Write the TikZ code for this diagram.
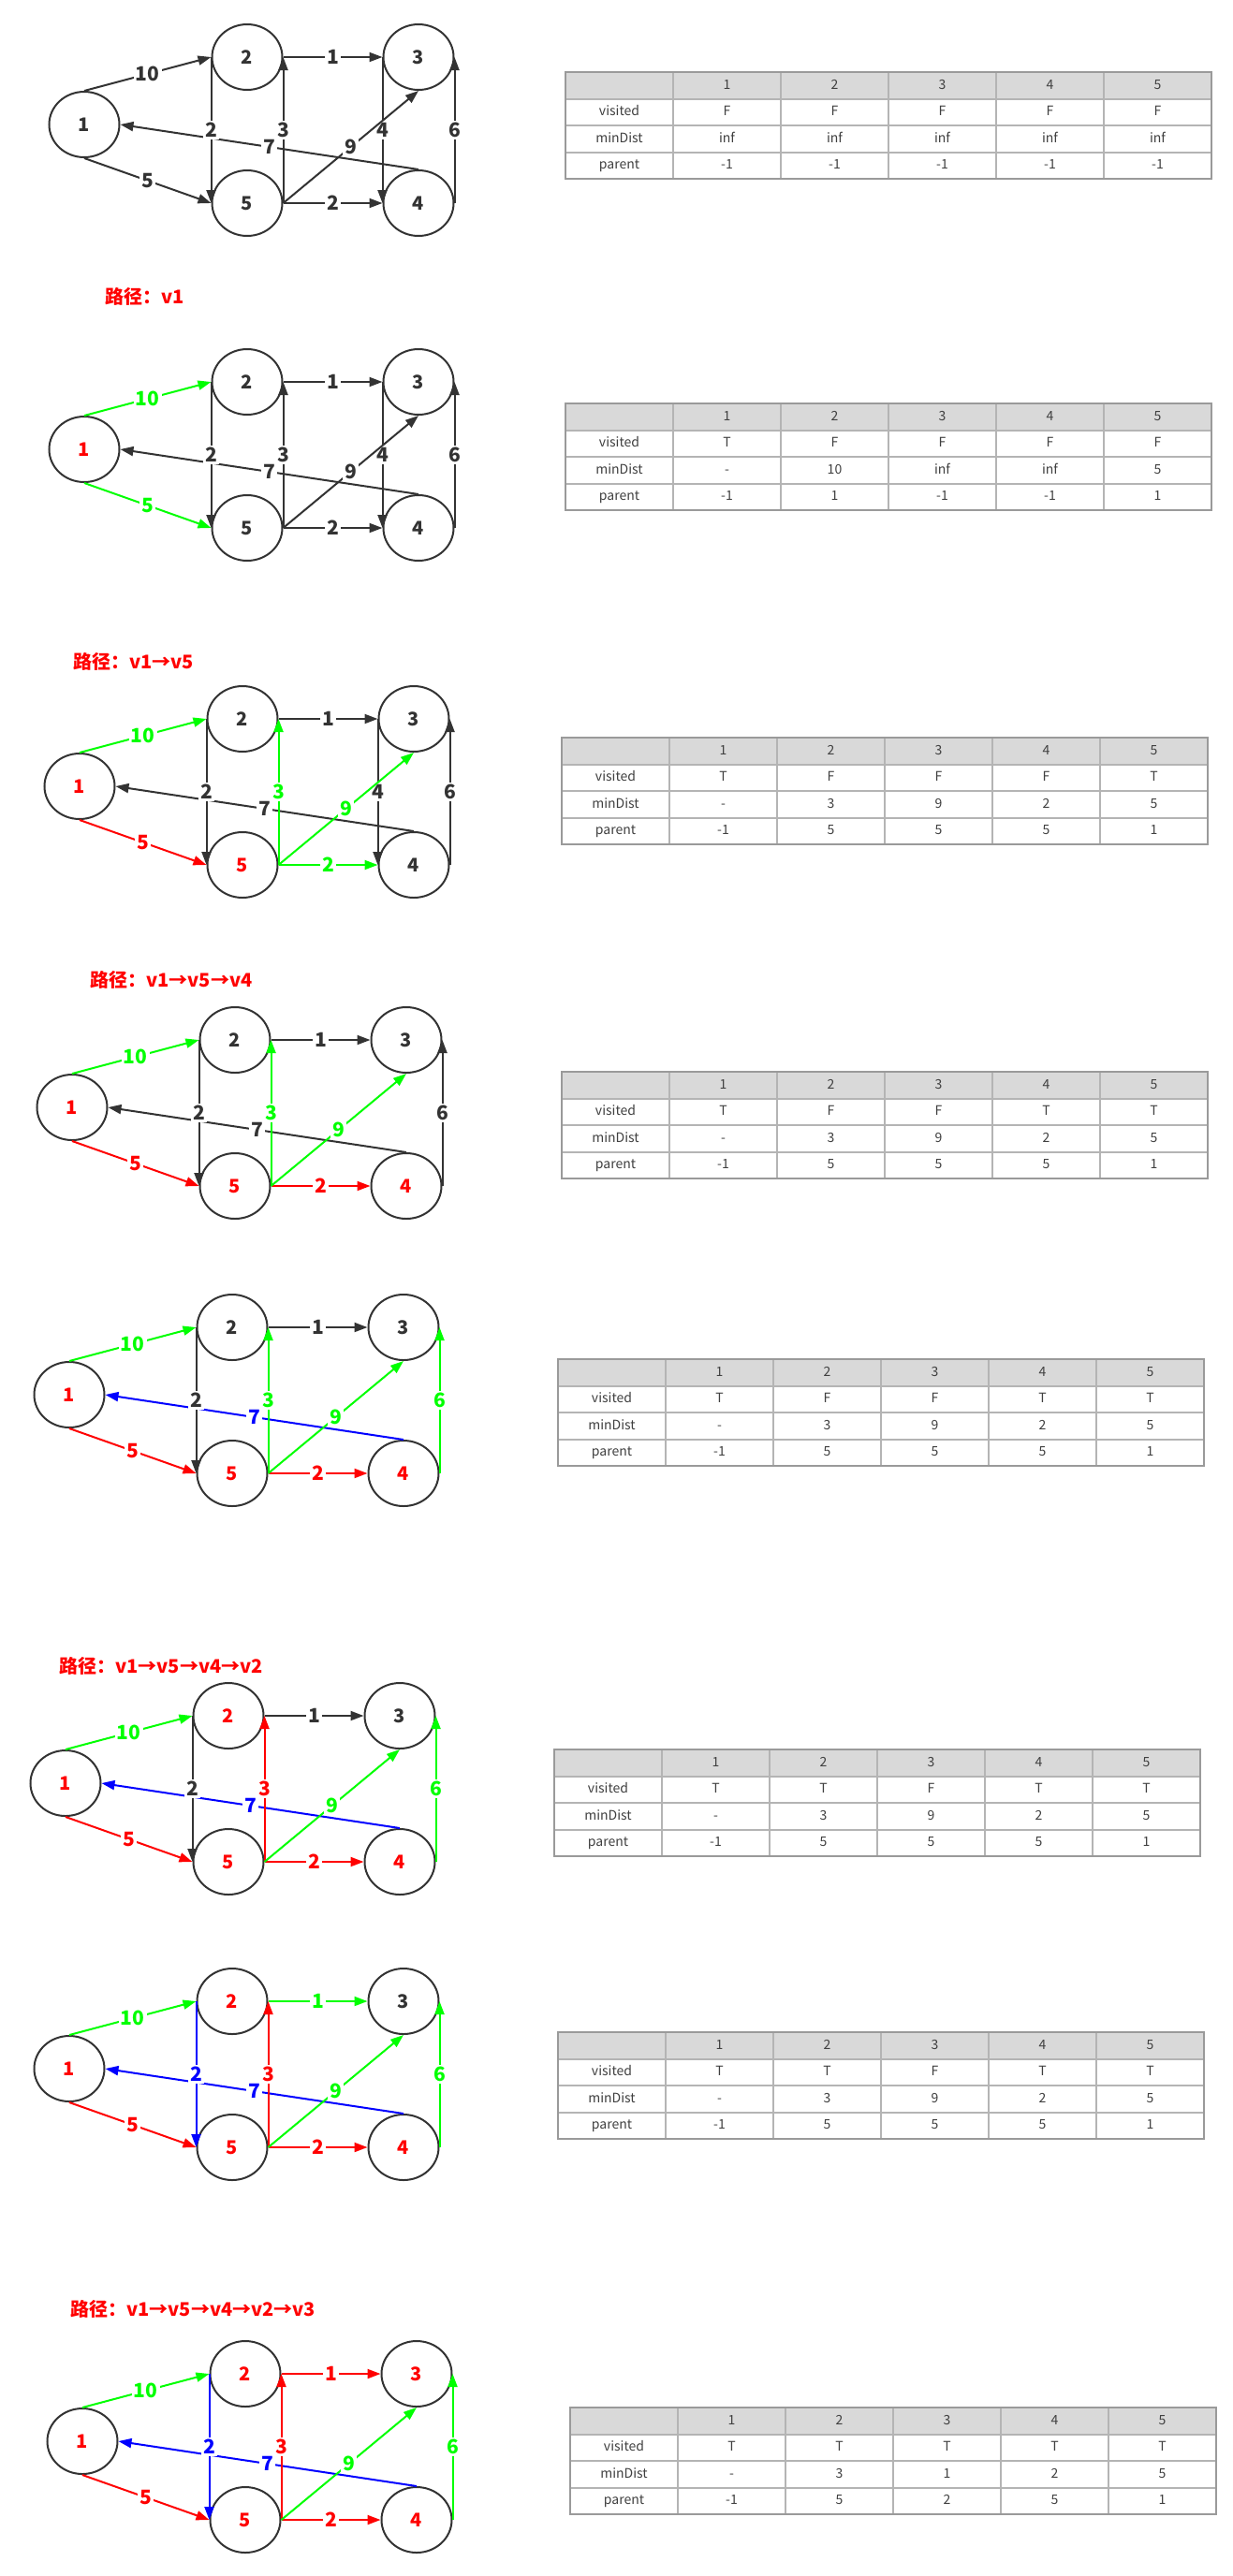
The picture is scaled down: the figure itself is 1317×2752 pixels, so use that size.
\documentclass[tikz,border=0pt]{standalone}
\usepackage{fontspec}
\setmainfont{Noto Sans CJK SC}
\usetikzlibrary{shapes.geometric,arrows.meta,matrix}
\definecolor{gk}{HTML}{333333}
\definecolor{gg}{HTML}{00FF00}
\definecolor{gr}{HTML}{FF0000}
\definecolor{gb}{HTML}{0000FF}
\definecolor{hdr}{HTML}{D9D9D9}
\definecolor{tline}{HTML}{B4B4B4}
\definecolor{tout}{HTML}{9A9A9A}
\definecolor{ttext}{HTML}{404040}
\tikzset{
 vnode/.style={ellipse, draw=gk, line width=1pt, fill=white, minimum width=37.5pt, minimum height=35pt, inner sep=0pt, font=\fontsize{10pt}{12pt}\selectfont\bfseries},
 wedge/.style={color=#1, line width=1pt, -{Triangle[length=7pt,width=5pt]}},
 wlab/.style={fill=white, inner sep=1pt, font=\fontsize{10.5pt}{12pt}\selectfont\bfseries},
 pathlab/.style={anchor=west, text=gr, font=\fontsize{10pt}{12pt}\selectfont\bfseries, inner sep=0pt},
 cell/.style={draw=tline, line width=0.5pt, minimum width=57pt, minimum height=13.75pt, inner sep=0pt, outer sep=0pt, text=ttext, font=\fontsize{7pt}{8pt}\selectfont, text height=5.2pt, text depth=1.4pt, anchor=center},
}
\newcommand\setnodes[5]{\def\nA{#1}\def\nB{#2}\def\nC{#3}\def\nD{#4}\def\nE{#5}}
\newcommand\sete[5]{\def\eab{#1}\def\eae{#2}\def\ebe{#3}\def\eeb{#4}\def\ebc{#5}}
\newcommand\setf[5]{\def\ecd{#1}\def\edc{#2}\def\eed{#3}\def\eec{#4}\def\eda{#5}}
\newcommand\drawpanel[3]{%
\begin{scope}[shift={(#2,#3)}, name prefix=#1-]
 \node[vnode, text=\nA] (v1) at (0,0) {1};
 \node[vnode, text=\nB] (v2) at (174,-72) {2};
 \node[vnode, text=\nC] (v3) at (357,-72) {3};
 \node[vnode, text=\nD] (v4) at (357,84) {4};
 \node[vnode, text=\nE] (v5) at (174,84) {5};
 \draw[wedge=\eda] (v4.north) -- node[wlab]{7} (v1.east);
 \draw[wedge=\eab] (v1.north) -- node[wlab]{10} (v2.west);
 \draw[wedge=\eae] (v1.south) -- node[wlab]{5} (v5.west);
 \draw[wedge=\ebe] (v2.west) -- node[wlab]{2} (v5.west);
 \draw[wedge=\eeb] (v5.east) -- node[wlab]{3} (v2.east);
 \draw[wedge=\ebc] (v2.east) -- node[wlab]{1} (v3.west);
 \ifx\ecd\empty\else\draw[wedge=\ecd] (v3.west) -- node[wlab]{4} (v4.west);\fi
 \draw[wedge=\edc] (v4.east) -- node[wlab]{6} (v3.east);
 \draw[wedge=\eed] (v5.east) -- node[wlab]{2} (v4.west);
 \draw[wedge=\eec] (v5.east) -- node[wlab]{9} (v3.south);
\end{scope}}
\newcommand\dtable[6]{%
\matrix (#1) [matrix of nodes, ampersand replacement=\&, nodes={cell}, anchor=north west, inner sep=0pt, outer sep=0pt, column sep=0pt, row sep=0pt, row 1/.style={nodes={fill=hdr}}] at (#2,#3) {
\mbox{} \& 1 \& 2 \& 3 \& 4 \& 5 \\
visited \& #4 \\
minDist \& #5 \\
parent \& #6 \\
};
\draw[tout, line width=1pt] (#1.north west) rectangle (#1.south east);}
\begin{document}
\begin{tikzpicture}[x=0.5pt,y=-0.5pt]
\fill[white] (0,0) rectangle (1317,2752);
\useasboundingbox (0,0) rectangle (1317,2752);
% panel 1
\setnodes{gk}{gk}{gk}{gk}{gk}\sete{gk}{gk}{gk}{gk}{gk}\setf{gk}{gk}{gk}{gk}{gk}
\drawpanel{p1}{90}{133}
% panel 2
\setnodes{gr}{gk}{gk}{gk}{gk}\sete{gg}{gg}{gk}{gk}{gk}\setf{gk}{gk}{gk}{gk}{gk}
\drawpanel{p2}{90}{480}
% panel 3
\setnodes{gr}{gk}{gk}{gk}{gr}\sete{gg}{gr}{gk}{gg}{gk}\setf{gk}{gk}{gg}{gg}{gk}
\drawpanel{p3}{85}{840}
% panel 4
\setnodes{gr}{gk}{gk}{gr}{gr}\sete{gg}{gr}{gk}{gg}{gk}\setf{}{gk}{gr}{gg}{gk}
\drawpanel{p4}{77}{1183}
% panel 5
\setnodes{gr}{gk}{gk}{gr}{gr}\sete{gg}{gr}{gk}{gg}{gk}\setf{}{gg}{gr}{gg}{gb}
\drawpanel{p5}{74}{1490}
% panel 6
\setnodes{gr}{gr}{gk}{gr}{gr}\sete{gg}{gr}{gk}{gr}{gk}\setf{}{gg}{gr}{gg}{gb}
\drawpanel{p6}{70}{1905}
% panel 7
\setnodes{gr}{gr}{gk}{gr}{gr}\sete{gg}{gr}{gb}{gr}{gg}\setf{}{gg}{gr}{gg}{gb}
\drawpanel{p7}{74}{2210}
% panel 8
\setnodes{gr}{gr}{gr}{gr}{gr}\sete{gg}{gr}{gb}{gr}{gr}\setf{}{gg}{gr}{gg}{gb}
\drawpanel{p8}{88}{2608}
% path labels
\node[pathlab] (L1) at (112,317) {路径：v1};
\node[pathlab] (L3) at (78,707) {路径：v1→v5};
\node[pathlab] (L4) at (96,1047) {路径：v1→v5→v4};
\node[pathlab] (L6) at (63,1780) {路径：v1→v5→v4→v2};
\node[pathlab] (L8) at (75,2467) {路径：v1→v5→v4→v2→v3};
% tables
\dtable{t1}{604}{77}{F \& F \& F \& F \& F}{inf \& inf \& inf \& inf \& inf}{-1 \& -1 \& -1 \& -1 \& -1}
\dtable{t2}{604}{431}{T \& F \& F \& F \& F}{- \& 10 \& inf \& inf \& 5}{-1 \& 1 \& -1 \& -1 \& 1}
\dtable{t3}{600}{788}{T \& F \& F \& F \& T}{- \& 3 \& 9 \& 2 \& 5}{-1 \& 5 \& 5 \& 5 \& 1}
\dtable{t4}{600}{1145}{T \& F \& F \& T \& T}{- \& 3 \& 9 \& 2 \& 5}{-1 \& 5 \& 5 \& 5 \& 1}
\dtable{t5}{596}{1452}{T \& F \& F \& T \& T}{- \& 3 \& 9 \& 2 \& 5}{-1 \& 5 \& 5 \& 5 \& 1}
\dtable{t6}{592}{1869}{T \& T \& F \& T \& T}{- \& 3 \& 9 \& 2 \& 5}{-1 \& 5 \& 5 \& 5 \& 1}
\dtable{t7}{596}{2171}{T \& T \& F \& T \& T}{- \& 3 \& 9 \& 2 \& 5}{-1 \& 5 \& 5 \& 5 \& 1}
\dtable{t8}{609}{2572}{T \& T \& T \& T \& T}{- \& 3 \& 1 \& 2 \& 5}{-1 \& 5 \& 2 \& 5 \& 1}
\end{tikzpicture}
\end{document}
